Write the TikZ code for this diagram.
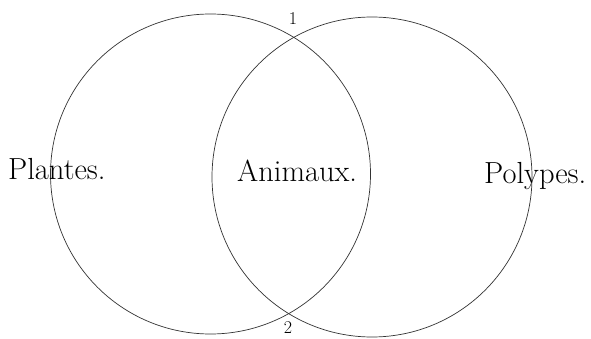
\documentclass[tikz,border=0pt]{standalone}
\begin{document}
\begin{tikzpicture}[x=1pt,y=-1pt,
  ring/.style={draw=black!80,line width=0.7pt},
  bigword/.style={inner sep=0pt,anchor=base west,font=\fontsize{30.5}{32}\selectfont},
  numlabel/.style={inner sep=0pt,font=\fontsize{18}{19}\selectfont}]
\useasboundingbox[fill=white] (0,0) rectangle (591,339);
\coordinate (cl) at (210.5,174);
\coordinate (cr) at (372,177);
\draw[ring] (cl) circle[radius=160];
\draw[ring] (cr) circle[radius=160];
\node[bigword] (plantes) at (8,179) {Plantes.};
\node[bigword] (animaux) at (237,182) {Animaux.};
\node[bigword] (polypes) at (484,183) {Polypes.};
\node[numlabel] (one) at (293,18.5) {1};
\node[numlabel,anchor=north] (two) at (288,321) {2};
\end{tikzpicture}
\end{document}
